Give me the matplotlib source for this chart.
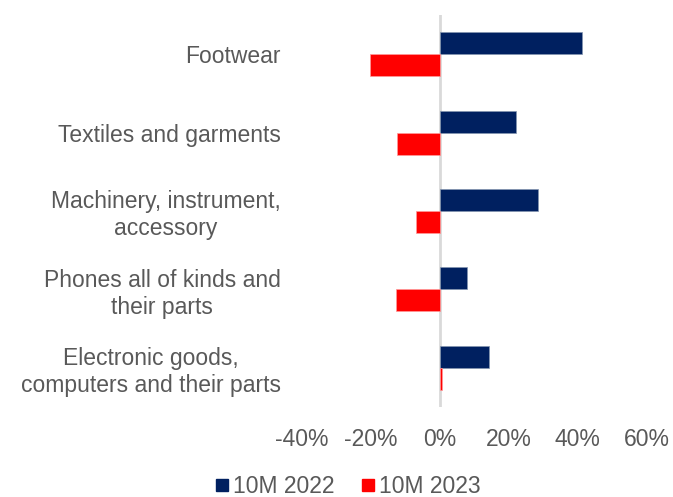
import matplotlib
matplotlib.use("Agg")
import matplotlib.pyplot as plt
from matplotlib.lines import Line2D
import numpy as np

plt.rcParams['font.family'] = ['Liberation Sans', 'DejaVu Sans']

categories = [
    "Footwear",
    "Textiles and garments",
    "Machinery, instrument,\naccessory",
    "Phones all of kinds and\ntheir parts",
    "Electronic goods,\ncomputers and their parts",
]
growth_2022 = [41.3, 22.2, 28.5, 7.8, 14.2]
growth_2023 = [-20.2, -12.3, -6.9, -12.5, 0.7]
series_labels = ["10M 2022", "10M 2023"]
x_ticks = [-40, -20, 0, 20, 40, 60]

navy = "#002060"
red = "#FF0000"
text_gray = "#595959"
fs = 16.5

fig = plt.figure(figsize=(6.73, 4.97), dpi=100)
ax = fig.add_axes([0.448, 0.181, 0.513, 0.789])

y = np.arange(len(categories))
h = 0.28
ax.barh(y - h / 2, growth_2022, height=h, color=navy, edgecolor="#8496B0", linewidth=0.5, zorder=2)
ax.barh(y + h / 2, growth_2023, height=h, color=red, edgecolor="#FF9999", linewidth=0.5, zorder=2)

ax.set_ylim(len(categories) - 0.5, -0.5)
ax.set_xlim(-40, 60)
ax.set_xticks(x_ticks)
ax.set_xticklabels([f"{v}%" for v in x_ticks])
ax.set_yticks(y)
ax.set_yticklabels(categories, ha="right", multialignment="center", linespacing=1.2)

ax.axvline(0, color="#D9D9D9", linewidth=2, zorder=1)
for s in ax.spines.values():
    s.set_visible(False)
ax.tick_params(axis="both", length=0, labelsize=fs, labelcolor=text_gray)
ax.tick_params(axis="y", pad=15)
ax.tick_params(axis="x", pad=15)

handles = [
    Line2D([], [], marker="s", linestyle="none", markersize=9, color=navy),
    Line2D([], [], marker="s", linestyle="none", markersize=9, color=red),
]
leg = fig.legend(handles, series_labels, loc="center", bbox_to_anchor=(0.518, 0.022),
                 ncol=2, frameon=False, fontsize=fs, handlelength=0.5,
                 handletextpad=0.25, columnspacing=1.2, borderaxespad=0)
for t in leg.get_texts():
    t.set_color(text_gray)

fig.savefig("out.png", dpi=100)
